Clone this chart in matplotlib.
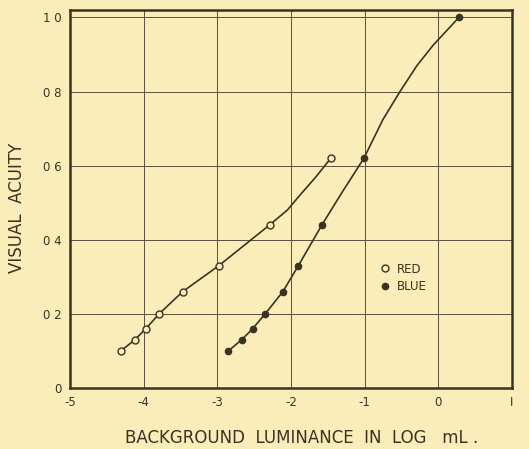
import matplotlib.pyplot as plt

# marker positions
red_x = [-4.31, -4.12, -3.97, -3.79, -3.47, -2.98, -2.29, -1.46]
red_y = [0.10, 0.13, 0.16, 0.20, 0.26, 0.33, 0.44, 0.62]
blue_x = [-2.85, -2.67, -2.52, -2.35, -2.11, -1.90, -1.58, -1.01, 0.28]
blue_y = [0.10, 0.13, 0.16, 0.20, 0.26, 0.33, 0.44, 0.62, 1.00]

# the hand-drawn curves
red_curve_x = [-4.31, -4.12, -3.97, -3.79, -3.47, -2.98, -2.29, -2.05, -1.88, -1.66, -1.46]
red_curve_y = [0.10, 0.13, 0.16, 0.20, 0.26, 0.33, 0.44, 0.48, 0.52, 0.57, 0.62]
blue_curve_x = [-2.85, -2.67, -2.52, -2.35, -2.11, -1.90, -1.58, -1.30, -1.01,
                -0.75, -0.52, -0.29, -0.07, 0.28]
blue_curve_y = [0.10, 0.13, 0.16, 0.20, 0.26, 0.33, 0.44, 0.53, 0.62,
                0.725, 0.80, 0.87, 0.925, 1.00]

xticks = [-5, -4, -3, -2, -1, 0, 1]
xlabels = ['-5', '-4', '-3', '-2', '-1', '0', 'I']
yticks = [0, 0.2, 0.4, 0.6, 0.8, 1.0]
ylabels = ['0', '0 2', '0 4', '0 6', '0 8', '1 0']

bg = '#fbedb9'
ink = '#3a3222'

fig = plt.figure(figsize=(5.29, 4.49), dpi=100, facecolor=bg)
ax = fig.add_axes([0.1323, 0.1359, 0.8355, 0.8418], facecolor=bg)

ax.plot(red_curve_x, red_curve_y, color=ink, lw=1.2, zorder=3)
ax.plot(blue_curve_x, blue_curve_y, color=ink, lw=1.2, zorder=3)
ax.plot(red_x, red_y, 'o', ms=5, mfc=bg, mec=ink, mew=1.0, zorder=4, label='RED')
ax.plot(blue_x, blue_y, 'o', ms=4.5, mfc=ink, mec=ink, zorder=4, label='BLUE')

ax.set_xlim(-5, 1)
ax.set_ylim(0, 1.02)
ax.set_xticks(xticks)
ax.set_xticklabels(xlabels)
ax.set_yticks(yticks)
ax.set_yticklabels(ylabels)
ax.tick_params(length=0, labelsize=8.5, colors=ink, pad=6)
ax.grid(True, color='#5a5040', lw=0.7)
ax.set_axisbelow(True)
for s in ax.spines.values():
    s.set_color(ink)
    s.set_linewidth(1.8)

ax.set_xlabel('BACKGROUND  LUMINANCE  IN  LOG   mL .', fontsize=12, color=ink)
ax.xaxis.set_label_coords(0.523, -0.108)
ax.set_ylabel('VISUAL  ACUITY', fontsize=12, color=ink)
ax.yaxis.set_label_coords(-0.099, 0.476)

leg = ax.legend(loc='upper left', bbox_to_anchor=(0.675, 0.36), frameon=False,
                fontsize=8.5, handletextpad=0.5, labelspacing=0.35, handlelength=1)
for t in leg.get_texts():
    t.set_color(ink)

fig.savefig('out.png', dpi=100, facecolor=bg)
